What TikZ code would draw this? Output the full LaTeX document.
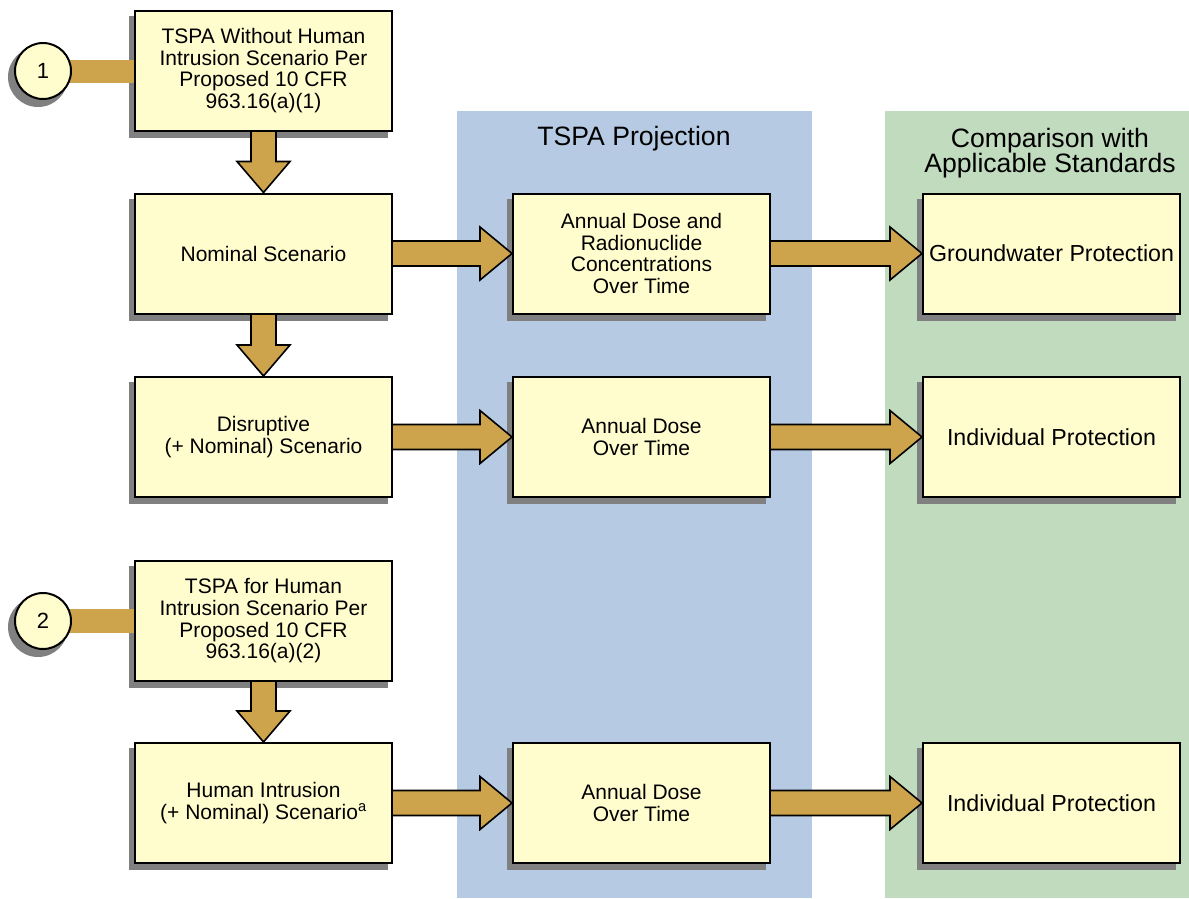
\documentclass[tikz,border=0pt]{standalone}
\usepackage{fontspec}
\setmainfont{Liberation Sans}
\usetikzlibrary{calc}

\definecolor{boxfill}{RGB}{255,253,206}
\definecolor{gold}{RGB}{205,163,75}
\definecolor{bandblue}{RGB}{183,202,227}
\definecolor{bandgreen}{RGB}{193,219,190}
\definecolor{shadegray}{RGB}{128,128,128}

\pgfdeclarelayer{bands}
\pgfdeclarelayer{shade}
\pgfdeclarelayer{links}
\pgfsetlayers{bands,shade,links,main}

\tikzset{
  stepbox/.style={draw=black, line width=2pt, fill=boxfill,
    minimum width=257pt, minimum height=120pt, inner sep=2pt,
    align=center, font=\fontsize{21}{21.7}\selectfont},
  goalbox/.style={stepbox, font=\fontsize{23.2}{24}\selectfont},
  numcirc/.style={circle, draw=black, line width=2pt, fill=boxfill,
    minimum size=56pt, inner sep=0pt, font=\fontsize{22}{22}\selectfont},
  fatarrow/.style={fill=gold, draw=black, line width=1.6pt, line join=miter},
  arrowshade/.style={fill=shadegray},
  bandtitle/.style={align=center, font=\fontsize{26.6}{25}\selectfont},
}

% fat arrow pointing right, from #1.east to #2.west
\newcommand\rarrowpath[3]{%
  \path[#3] let \p1=(#1.east), \p2=(#2.west) in
    (\x1-4pt,\y1+12.5pt) -- (\x2-32pt,\y1+12.5pt) -- (\x2-32pt,\y1+26.5pt)
    -- (\x2,\y1) -- (\x2-32pt,\y1-26.5pt) -- (\x2-32pt,\y1-12.5pt)
    -- (\x1-4pt,\y1-12.5pt) -- cycle;}
% fat arrow pointing down, from #1.south to #2.north
\newcommand\darrowpath[3]{%
  \path[#3] let \p1=(#1.south), \p2=(#2.north) in
    (\x1-12.5pt,\y1+4pt) -- (\x1-12.5pt,\y2+31pt) -- (\x1-26.5pt,\y2+31pt)
    -- (\x1,\y2) -- (\x1+26.5pt,\y2+31pt) -- (\x1+12.5pt,\y2+31pt)
    -- (\x1+12.5pt,\y1+4pt) -- cycle;}

\newcommand\rightlink[2]{%
  \begin{pgfonlayer}{shade}
    \begin{scope}[shift={(-5pt,-6pt)}]\rarrowpath{#1}{#2}{arrowshade}\end{scope}
  \end{pgfonlayer}
  \begin{pgfonlayer}{links}\rarrowpath{#1}{#2}{fatarrow}\end{pgfonlayer}}
\newcommand\downlink[2]{%
  \begin{pgfonlayer}{shade}
    \begin{scope}[shift={(-5pt,-6pt)}]\darrowpath{#1}{#2}{arrowshade}\end{scope}
  \end{pgfonlayer}
  \begin{pgfonlayer}{links}\darrowpath{#1}{#2}{fatarrow}\end{pgfonlayer}}

\begin{document}
\begin{tikzpicture}[x=1pt, y=-1pt]
  \useasboundingbox (0,0) rectangle (1189,898);

  % column bands
  \begin{pgfonlayer}{bands}
    \fill[bandblue]  (457,111) rectangle (812,898);
    \fill[bandgreen] (885,111) rectangle (1189,898);
  \end{pgfonlayer}
  \node[bandtitle] (projtitle) at (634,138.5) {TSPA Projection};
  \node[bandtitle] (comptitle) at (1050,153.5) {Comparison with\\Applicable Standards};

  % left column
  \node[stepbox] (tspa1) at (263.5,70.5)
    {TSPA Without Human\\Intrusion Scenario Per\\Proposed 10 CFR\\963.16(a)(1)};
  \node[stepbox] (nominal) at (263.5,253.5) {Nominal Scenario};
  \node[stepbox] (disrupt) at (263.5,437) {Disruptive\\(+ Nominal) Scenario};
  \node[stepbox] (tspa2) at (263.5,621)
    {TSPA for Human\\Intrusion Scenario Per\\Proposed 10 CFR\\963.16(a)(2)};
  \node[stepbox] (intrusion) at (263.5,803)
    {Human Intrusion\\(+ Nominal) Scenario\textsuperscript{a}};

  % projection column
  \node[stepbox] (conc) at (641.5,253.5)
    {Annual Dose and\\Radionuclide\\Concentrations\\Over Time};
  \node[stepbox] (dose1) at (641.5,437) {Annual Dose\\Over Time};
  \node[stepbox] (dose2) at (641.5,803) {Annual Dose\\Over Time};

  % standards column
  \node[goalbox] (ground) at (1051.5,253.5) {Groundwater Protection};
  \node[goalbox] (indiv1) at (1051.5,437) {Individual Protection};
  \node[goalbox] (indiv2) at (1051.5,803) {Individual Protection};

  % numbered entry points
  \node[numcirc] (num1) at (43,71) {1};
  \node[numcirc] (num2) at (43,621) {2};

  % box and circle shadows
  \begin{pgfonlayer}{shade}
    \foreach \b in {tspa1,nominal,disrupt,tspa2,intrusion,conc,dose1,dose2,ground,indiv1,indiv2}
      \fill[arrowshade] ([shift={(-5pt,-6pt)}]\b.south west) rectangle ([shift={(-5pt,-6pt)}]\b.north east);
    \foreach \c in {num1,num2}
      \fill[arrowshade] ([shift={(-5pt,-6pt)}]\c.center) circle[radius=30pt];
  \end{pgfonlayer}

  % bars from the circles into the first boxes
  \begin{pgfonlayer}{links}
    \fill[gold] let \p1=(num1.center), \p2=(tspa1.west) in
      (\x1,\y1+11.5pt) rectangle (\x2+3pt,\y1-11.5pt);
    \fill[gold] let \p1=(num2.center), \p2=(tspa2.west) in
      (\x1,\y1+12pt) rectangle (\x2+3pt,\y1-12pt);
  \end{pgfonlayer}

  % flow arrows
  \downlink{tspa1}{nominal}
  \downlink{nominal}{disrupt}
  \downlink{tspa2}{intrusion}
  \rightlink{nominal}{conc}
  \rightlink{disrupt}{dose1}
  \rightlink{intrusion}{dose2}
  \rightlink{conc}{ground}
  \rightlink{dose1}{indiv1}
  \rightlink{dose2}{indiv2}
\end{tikzpicture}
\end{document}
